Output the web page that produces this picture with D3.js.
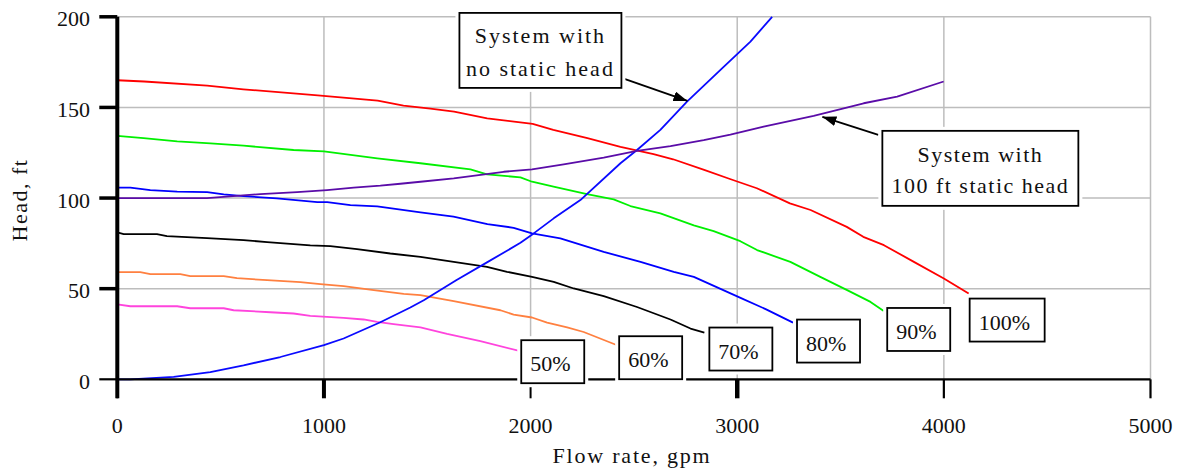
<!DOCTYPE html>
<html>
<head>
<meta charset="utf-8">
<script src="https://cdn.jsdelivr.net/npm/d3@7"></script>
<style>
  html, body { margin: 0; padding: 0; background: #fff; }
  svg { display: block; }
  text { font-family: "Liberation Serif", "Times New Roman", serif; fill: #111; }
</style>
</head>
<body>
<svg id="chart" width="1180" height="470"></svg>
<script>
// Pump head curves at several speeds (flow in gpm, head in ft)
const pump100Flow = [0,130,435,610,970,1260,1385,1515,1630,1790,1920,2010,2110,2275,2435,2595,2690,2840,2965,3095,3255,3355,3530,3610,3710,3855,4000,4120];
const pump100Head = [165,164.3,162,160,156.7,153.8,151,149.3,147.7,144,142.2,140.9,137.6,133,128.3,124.3,121.4,115.5,110.5,105.4,97.1,93.4,84.1,78.6,74,64.8,55.6,47.3];

const pump90Flow = [0,127,290,451,611,853,1000,1258,1467,1709,1789,1951,2007,2111,2273,2402,2483,2628,2790,2886,3015,3096,3257,3402,3532,3645,3709];
const pump90Head = [134.3,133.1,131.3,130.2,128.9,126.5,125.8,121.9,119.2,115.8,113.1,111.4,109,106.3,102.2,99.3,95.6,91.5,84.9,81.8,76.2,71.3,64.8,56.5,49.2,42.7,37.7];

const pump80Flow = [0,63,160,290,435,515,611,772,968,1016,1128,1258,1467,1627,1791,1918,2007,2144,2354,2532,2693,2790,3016,3140,3270];
const pump80Head = [105.7,105.7,104.4,103.5,103.3,102,101.1,99.8,97.8,97.8,96.1,95.4,92.1,89.7,85.6,83.6,80.5,77.7,70.3,64.8,59.3,56.5,44.9,38.6,31.3];

const pump70Flow = [0,31,192,240,434,611,725,934,1031,1160,1321,1467,1628,1789,1886,2007,2112,2209,2354,2515,2677,2774,2841];
const pump70Head = [81,80.1,80.1,79,77.9,76.8,75.7,73.9,73.5,71.8,69.4,67.6,64.8,62,59.3,56.5,53.8,50.1,45.9,39.9,33,28,25.8];

const pump60Flow = [0,111,160,305,353,515,579,725,886,983,1095,1241,1386,1467,1628,1854,1918,2007,2080,2177,2257,2419];
const pump60Head = [59.1,59.1,58,58,56.9,56.9,55.8,54.7,53.6,52.5,51.4,49.2,47.1,46.4,43.1,38.1,35.7,34.1,31.3,28.6,26.1,18.8];

const pump50Flow = [0,63,290,353,515,563,741,853,934,1095,1192,1257,1337,1467,1596,1757,1950];
const pump50Head = [41.3,40.3,40.3,39.2,39.2,38.1,37,36.3,35,33.9,33,31.7,30.4,28.6,25,21,15.5];

// System curves
const systemNoStaticFlow = [0,63,273,450,611,789,1000,1095,1273,1418,1483,1640,1789,1951,2015,2112,2241,2435,2515,2628,2757,2919,3064,3169];
const systemNoStaticHead = [0,0,1.3,4,7.7,12.3,18.8,22.5,31.5,39.6,43.6,54.7,64.5,75.3,80.5,88.8,98.9,119.2,126.5,137.6,153.2,170.7,186.3,200];

const systemStaticFlow = [0,434,692,870,1015,1144,1273,1370,1467,1628,1870,2007,2160,2354,2515,2677,2838,2967,3128,3370,3612,3774,3999];
const systemStaticHead = [100,100,102.2,103.3,104.4,105.7,106.8,107.9,109,110.9,114.5,115.8,118.6,122.3,126,128.7,132,135,139.4,145.3,152.3,156,164.3];

// Axis ticks
const xTicks = [0,1000,2000,3000,4000,5000];
const yTicks = [0,50,100,150,200];

// Speed labels
const speedLabels = ["100%","90%","80%","70%","60%","50%"];

const svg = d3.select("#chart");
const x = d3.scaleLinear().domain([0, 5000]).range([117.3, 1150.5]);
const y = d3.scaleLinear().domain([0, 200]).range([379.3, 16.8]);

const zip = (xs, ys) => xs.map((v, i) => [v, ys[i]]);

const pumps = [
  { name: speedLabels[0], pts: zip(pump100Flow, pump100Head), color: "#ff0000", box: { dx: 1,  dy: 5,   w: 75 } },
  { name: speedLabels[1], pts: zip(pump90Flow,  pump90Head),  color: "#00f000", box: { dx: 3.5, dy: -3, w: 63 } },
  { name: speedLabels[2], pts: zip(pump80Flow,  pump80Head),  color: "#0000ff", box: { dx: 4,  dy: -3,  w: 63 } },
  { name: speedLabels[3], pts: zip(pump70Flow,  pump70Head),  color: "#000000", box: { dx: 5,  dy: -5,  w: 63 } },
  { name: speedLabels[4], pts: zip(pump60Flow,  pump60Head),  color: "#ff8040", box: { dx: 2,  dy: -9,  w: 63 } },
  { name: speedLabels[5], pts: zip(pump50Flow,  pump50Head),  color: "#ff44dd", box: { dx: 1,  dy: -11, w: 63 } }
];
const systems = [
  { pts: zip(systemNoStaticFlow, systemNoStaticHead), color: "#0a0aff" },
  { pts: zip(systemStaticFlow, systemStaticHead), color: "#5a0ca8" }
];

// Grid
const grid = svg.append("g").attr("stroke", "#bdbdbd").attr("stroke-width", 1.5);
grid.selectAll("line.h").data(yTicks.filter(d => d > 0)).join("line")
  .attr("x1", x(0)).attr("x2", x(5000))
  .attr("y1", d => y(d)).attr("y2", d => y(d));
grid.selectAll("line.v").data(xTicks.filter(d => d > 0)).join("line")
  .attr("x1", d => x(d)).attr("x2", d => x(d))
  .attr("y1", y(0)).attr("y2", y(200));

// Curves
const line = d3.line().x(d => x(d[0])).y(d => y(d[1]));
const curves = svg.append("g").attr("fill", "none").attr("stroke-width", 1.8).attr("stroke-linejoin", "round");
curves.selectAll("path.pump").data(pumps).join("path")
  .attr("d", d => line(d.pts)).attr("stroke", d => d.color);
curves.selectAll("path.sys").data(systems).join("path")
  .attr("d", d => line(d.pts)).attr("stroke", d => d.color);

// X axis
const axisG = svg.append("g");
axisG.append("line")
  .attr("x1", x(0)).attr("x2", x(5000)).attr("y1", y(0)).attr("y2", y(0))
  .attr("stroke", "#000").attr("stroke-width", 2.2);
const xTickWidth = { 0: 2, 1000: 4, 2000: 2, 3000: 4.5, 4000: 2.2, 5000: 2.2 };
axisG.selectAll("line.xt").data(xTicks).join("line")
  .attr("x1", d => x(d)).attr("x2", d => x(d))
  .attr("y1", y(0)).attr("y2", y(0) + 19)
  .attr("stroke", "#000").attr("stroke-width", d => xTickWidth[d]);
axisG.selectAll("text.xl").data(xTicks).join("text")
  .attr("x", d => x(d)).attr("y", 433)
  .attr("text-anchor", "middle").attr("font-size", 22)
  .text(d => d);

// Y axis
axisG.append("line")
  .attr("x1", x(0)).attr("x2", x(0)).attr("y1", y(200)).attr("y2", y(0) + 19)
  .attr("stroke", "#000").attr("stroke-width", 4);
axisG.selectAll("line.yt").data(yTicks).join("line")
  .attr("x1", x(0) - 18).attr("x2", x(0))
  .attr("y1", d => y(d)).attr("y2", d => y(d))
  .attr("stroke", "#000").attr("stroke-width", d => d === 0 ? 2.2 : 3.5);
axisG.selectAll("text.yl").data(yTicks).join("text")
  .attr("x", 90).attr("y", d => y(d) + 9.5)
  .attr("text-anchor", "end").attr("font-size", 22)
  .text(d => d);

// Axis titles
svg.append("text")
  .attr("x", 632).attr("y", 463)
  .attr("text-anchor", "middle").attr("font-size", 22).attr("letter-spacing", 1.8)
  .text("Flow rate, gpm");
svg.append("text")
  .attr("transform", "translate(27,200) rotate(-90)")
  .attr("text-anchor", "middle").attr("font-size", 22).attr("letter-spacing", 1.5)
  .text("Head, ft");

// Boxed label helper: white halo, framed box
function boxedText(g, bx, by, bw, bh, lines, opts) {
  g.append("rect").attr("x", bx - 4).attr("y", by - 4).attr("width", bw + 8).attr("height", bh + 8)
    .attr("fill", "#fff");
  g.append("rect").attr("x", bx).attr("y", by).attr("width", bw).attr("height", bh)
    .attr("fill", "#fff").attr("stroke", "#000").attr("stroke-width", 1.8);
  lines.forEach((t, i) => {
    g.append("text")
      .attr("x", opts.anchor === "middle" ? bx + bw / 2 : bx + opts.pad)
      .attr("y", by + opts.base + i * opts.lineH)
      .attr("text-anchor", opts.anchor)
      .attr("font-size", 22)
      .attr("letter-spacing", opts.spacing || 0)
      .text(t);
  });
}

// Speed labels at the end of each pump curve
const labels = svg.append("g");
pumps.slice().reverse().forEach(p => {
  const end = p.pts[p.pts.length - 1];
  const bx = x(end[0]) + p.box.dx;
  const by = y(end[1]) + p.box.dy;
  boxedText(labels, bx, by, p.box.w, 43, [p.name], { anchor: "start", pad: 9, base: 31, lineH: 0 });
});

// Arrowheads
svg.append("defs").append("marker")
  .attr("id", "arrow").attr("viewBox", "0 0 14 10")
  .attr("refX", 14).attr("refY", 5)
  .attr("markerWidth", 14).attr("markerHeight", 10)
  .attr("markerUnits", "userSpaceOnUse")
  .attr("orient", "auto")
  .append("path").attr("d", "M0,0 L14,5 L0,10 Z").attr("fill", "#000");

// Callouts pointing at the system curves
const callouts = svg.append("g");
const tip1 = [x(2759), y(153.6)];
callouts.append("line")
  .attr("x1", tip1[0] - 63).attr("y1", tip1[1] - 22)
  .attr("x2", tip1[0]).attr("y2", tip1[1])
  .attr("stroke", "#000").attr("stroke-width", 1.8).attr("marker-end", "url(#arrow)");
boxedText(callouts, tip1[0] - 228, tip1[1] - 88, 162, 75, ["System with", "no static head"],
  { anchor: "middle", base: 30, lineH: 33, spacing: 2 });

const tip2 = [x(3412), y(144.8)];
callouts.append("line")
  .attr("x1", tip2[0] + 56).attr("y1", tip2[1] + 18)
  .attr("x2", tip2[0]).attr("y2", tip2[1])
  .attr("stroke", "#000").attr("stroke-width", 1.8).attr("marker-end", "url(#arrow)");
boxedText(callouts, tip2[0] + 60, tip2[1] + 14, 196, 75, ["System with", "100 ft static head"],
  { anchor: "middle", base: 31, lineH: 31, spacing: 1.5 });
</script>
</body>
</html>
